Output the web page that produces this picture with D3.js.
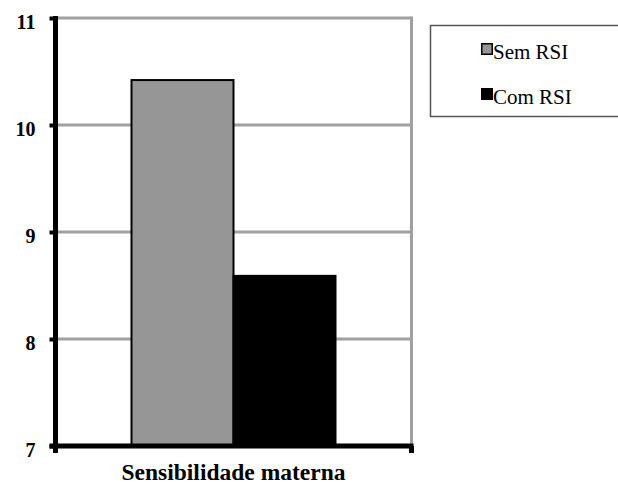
<!DOCTYPE html>
<html><head><meta charset="utf-8">
<script src="https://cdn.jsdelivr.net/npm/d3@7"></script>
<style>
html,body{margin:0;padding:0;background:#fff;}
svg{display:block;}
</style></head>
<body>
<svg id="chart" width="618" height="487" font-family="Liberation Serif"></svg>
<script>
const categories = ["Sensibilidade materna"];
const seriesNames = ["Sem RSI", "Com RSI"];
const seriesValues = [[10.42], [8.59]];
const seriesColors = ["#969696", "#000000"];
const yTicks = [7, 8, 9, 10, 11];

(function () {
const svg = d3.select("#chart");
const pl = 55.5, pr = 411.5, pt = 18, pb = 446;
const serif = "Liberation Serif";

const y = d3.scaleLinear().domain([7, 11]).range([pb, pt]);
const x0 = d3.scaleBand().domain(categories).range([pl, pr]).paddingInner(0).paddingOuter(0.3725);
const x1 = d3.scaleBand().domain(seriesNames).range([0, x0.bandwidth()]);

svg.append("g").selectAll("line").data(yTicks.filter(t => t > 7)).join("line")
  .attr("x1", pl).attr("x2", pr)
  .attr("y1", d => y(d)).attr("y2", d => y(d))
  .attr("stroke", "#a0a0a0").attr("stroke-width", 3);
svg.append("line").attr("x1", pr).attr("x2", pr).attr("y1", pt - 1.5).attr("y2", pb)
  .attr("stroke", "#a0a0a0").attr("stroke-width", 3);

const g = svg.append("g").selectAll("g").data(categories).join("g")
  .attr("transform", d => `translate(${x0(d)},0)`);
g.selectAll("rect").data((d, i) => seriesNames.map((s, j) => ({s, v: seriesValues[j][i], c: seriesColors[j]})))
  .join("rect")
  .attr("x", d => x1(d.s)).attr("width", x1.bandwidth())
  .attr("y", d => y(d.v)).attr("height", d => y(7) - y(d.v))
  .attr("fill", d => d.c).attr("stroke", "#000").attr("stroke-width", 2);

const yAxis = svg.append("g").attr("transform", `translate(${pl},0)`)
  .call(d3.axisLeft(y).tickValues(yTicks).tickFormat(d3.format("d")).tickSize(6).tickPadding(14));
yAxis.attr("font-family", serif).attr("font-size", 20);
yAxis.select(".domain").attr("stroke", "#000").attr("stroke-width", 5).attr("d", `M0,${pt - 2}V${pb + 2}`);
yAxis.selectAll(".tick line").attr("stroke", "#000").attr("stroke-width", 4);
yAxis.selectAll(".tick text").attr("font-weight", "bold").attr("fill", "#000").attr("dy", "10px");

const xAxis = svg.append("g").attr("transform", `translate(0,${pb})`)
  .call(d3.axisBottom(x0).tickSize(0).tickPadding(17));
xAxis.attr("font-family", serif).attr("font-size", 23.5);
xAxis.select(".domain").attr("stroke", "#000").attr("stroke-width", 5).attr("d", `M${pl - 6},0H${pr + 2}`);
xAxis.selectAll(".tick text").attr("font-weight", "bold").attr("fill", "#000").attr("dy", "0.71em");
svg.append("g").selectAll("line").data([pl, pr]).join("line")
  .attr("x1", d => d).attr("x2", d => d).attr("y1", pb).attr("y2", pb + 7)
  .attr("stroke", "#000").attr("stroke-width", 5);

const lg = svg.append("g");
lg.append("rect").attr("x", 430.5).attr("y", 25.5).attr("width", 200).attr("height", 91)
  .attr("fill", "#fff").attr("stroke", "#555").attr("stroke-width", 1.5);
const items = lg.selectAll("g").data(seriesNames).join("g")
  .attr("transform", (d, i) => `translate(481,${43 + i * 45})`);
items.append("rect").attr("x", 0.75).attr("y", 0.75).attr("width", 10.5).attr("height", 10.5)
  .attr("fill", (d, i) => seriesColors[i]).attr("stroke", "#000").attr("stroke-width", 1.5);
items.append("text").attr("x", 12).attr("y", 16).text(d => d)
  .attr("font-family", serif).attr("font-size", 21).attr("fill", "#000");
})();
</script>
</body></html>
